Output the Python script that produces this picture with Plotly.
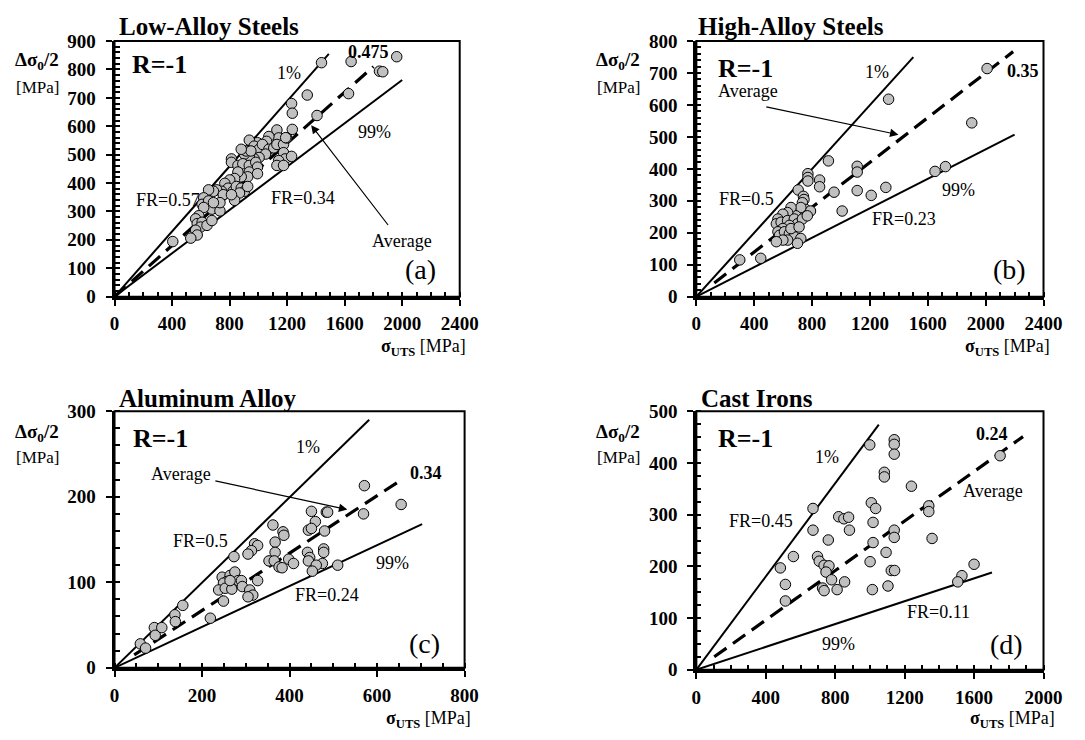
import plotly.graph_objects as go

FONT = "Liberation Serif"
W, H = 1085, 740

# ---------------- data ----------------
# (a) Low-Alloy Steels
a_uts = [1231, 1236, 1408, 1236, 1129, 1141, 1073, 1057, 994, 937, 971, 1005, 1028, 1073, 1107,
         1129, 1175, 1197, 1175, 1186, 1231, 1141, 1129, 1175, 1050, 1005, 971, 937, 903, 914,
         948, 881, 813, 813, 858, 892, 937, 982, 994, 937, 994, 926, 881, 858, 835, 801, 767,
         790, 745, 711, 688, 654, 756, 824, 847, 881, 903, 926, 869, 835, 813, 620, 609, 654,
         677, 733, 733, 688, 620, 586, 564, 575, 609, 598, 564, 643, 677, 575, 530, 405, 1439,
         1645, 1962, 1842, 1865, 1340, 1627, 1190]
a_amp = [680, 646, 638, 589, 587, 559, 564, 547, 542, 551, 530, 519, 536, 519, 524,
         536, 536, 559, 507, 485, 494, 479, 462, 462, 502, 490, 485, 496, 502, 513,
         513, 519, 485, 473, 462, 468, 462, 473, 456, 439, 433, 422, 422, 439, 416, 411, 399,
         382, 371, 376, 371, 376, 359, 371, 388, 382, 371, 388, 365, 339, 359, 348, 325, 337,
         308, 302, 331, 331, 314, 285, 274, 257, 262, 245, 234, 251, 268, 217, 206, 194, 824,
         828, 845, 794, 792, 710, 715, 560]
a_p1_x, a_p1_y = [0, 1490], [0, 855]      # 1% line
a_p99_x, a_p99_y = [0, 2000], [0, 763]    # 99% line
a_avg_x, a_avg_y = [0, 1800], [0, 810]    # average line

# (b) High-Alloy Steels
b_uts = [913, 1112, 1112, 771, 771, 771, 852, 852, 952, 1112, 1209, 1310, 1008, 704, 740, 744,
         733, 755, 789, 722, 688, 654, 631, 598, 564, 553, 586, 631, 677, 699, 733, 767, 643,
         598, 564, 575, 609, 643, 677, 722, 699, 631, 598, 553, 654, 710, 445, 300, 1329, 2010,
         1904, 1650, 1722]
b_amp = [425, 408, 390, 385, 373, 362, 365, 344, 327, 332, 317, 342, 268, 334, 314, 304,
         294, 273, 268, 279, 253, 279, 263, 258, 243, 228, 233, 238, 243, 228, 243, 253, 223,
         213, 203, 192, 203, 197, 187, 182, 167, 177, 177, 172, 213, 218, 120, 115, 618, 714,
         544, 392, 407]
b_p1_x, b_p1_y = [0, 1500], [0, 750]
b_p99_x, b_p99_y = [0, 2200], [0, 507]
b_avg_x, b_avg_y = [124, 2190], [43, 767]

# (c) Aluminum Alloy
c_uts = [450, 484, 487, 459, 443, 450, 480, 362, 385, 387, 367, 320, 327, 313, 305, 273, 367,
         353, 365, 376, 383, 398, 409, 441, 446, 443, 478, 478, 475, 461, 452, 510, 246, 264,
         275, 283, 290, 257, 249, 238, 253, 268, 264, 292, 309, 316, 305, 327, 249, 219, 156,
         59, 71, 91, 93, 108, 138, 139, 571, 655, 569]
c_amp = [183, 182, 182, 171, 161, 163, 160, 167, 159, 155, 147, 145, 143, 137, 133, 130, 135,
         125, 125, 118, 117, 127, 122, 135, 129, 125, 139, 135, 122, 120, 113, 120, 106, 108,
         112, 102, 102, 101, 99, 91, 93, 92, 102, 95, 91, 85, 83, 102, 78, 58, 73,
         28, 23, 47, 38, 47, 62, 54, 213, 191, 180]
c_p1_x, c_p1_y = [0, 582], [0, 290]
c_p99_x, c_p99_y = [0, 703], [0, 168]
c_avg_x, c_avg_y = [45, 653], [15, 219]

# (d) Cast Irons
d_uts = [999, 1140, 1140, 1140, 1083, 1083, 1239, 1750, 1008, 1033, 672, 820, 850, 877, 1339,
         1339, 1018, 672, 882, 1140, 1140, 760, 1358, 1018, 559, 698, 708, 736, 764, 747, 779,
         1001, 1093, 1123, 1142, 727, 736, 811, 854, 1014, 1104, 1600, 1530, 1506, 484, 513, 513]
d_amp = [435, 445, 436, 417, 382, 373, 355, 414, 323, 312, 312, 296, 292, 295, 317,
         306, 285, 270, 270, 270, 256, 251, 254, 246, 219, 219, 210, 202, 201, 189, 174,
         209, 227, 192, 192, 158, 153, 155, 170, 155, 162, 204, 182, 170, 197, 165, 133]
d_p1_x, d_p1_y = [0, 1051], [0, 474]
d_p99_x, d_p99_y = [0, 1703], [0, 188]
d_avg_x, d_avg_y = [103, 1882], [25, 451]

titles = ["Low-Alloy Steels", "High-Alloy Steels", "Aluminum Alloy", "Cast Irons"]
letters = ["(a)", "(b)", "(c)", "(d)"]

# ---------------- figure ----------------
fig = go.Figure()

panels = [
    dict(xs=a_uts, ys=a_amp, l1=(a_p1_x, a_p1_y), l99=(a_p99_x, a_p99_y), avg=(a_avg_x, a_avg_y)),
    dict(xs=b_uts, ys=b_amp, l1=(b_p1_x, b_p1_y), l99=(b_p99_x, b_p99_y), avg=(b_avg_x, b_avg_y)),
    dict(xs=c_uts, ys=c_amp, l1=(c_p1_x, c_p1_y), l99=(c_p99_x, c_p99_y), avg=(c_avg_x, c_avg_y)),
    dict(xs=d_uts, ys=d_amp, l1=(d_p1_x, d_p1_y), l99=(d_p99_x, d_p99_y), avg=(d_avg_x, d_avg_y)),
]

for i, p in enumerate(panels):
    sfx = "" if i == 0 else str(i + 1)
    xa, ya = "x" + sfx, "y" + sfx
    for key in ("l1", "l99"):
        fig.add_trace(go.Scatter(x=p[key][0], y=p[key][1], mode="lines", xaxis=xa, yaxis=ya,
                                 line=dict(color="black", width=2), hoverinfo="skip",
                                 showlegend=False))
    fig.add_trace(go.Scatter(x=p["avg"][0], y=p["avg"][1], mode="lines", xaxis=xa, yaxis=ya,
                             line=dict(color="black", width=3.2, dash="15px,8px"),
                             hoverinfo="skip", showlegend=False))
    fig.add_trace(go.Scatter(x=p["xs"], y=p["ys"], mode="markers", xaxis=xa, yaxis=ya,
                             marker=dict(size=10.5, color="#c0c0c0",
                                         line=dict(color="black", width=1)),
                             showlegend=False, cliponaxis=False))

tickfont = dict(family=FONT, size=19, color="black", weight="bold")


def xaxis(domain, rng, dt, mdt, anchor):
    return dict(domain=domain, range=rng, dtick=dt, tick0=0, anchor=anchor,
                showgrid=False, zeroline=False, showline=True, linecolor="black", linewidth=3,
                ticks="outside", ticklen=6, tickwidth=2, tickcolor="black",
                tickfont=tickfont, ticklabelstandoff=2,
                minor=dict(ticks="inside", ticklen=5, tickwidth=1.5, tickcolor="black",
                           dtick=mdt, tick0=0, showgrid=False),
                fixedrange=True)


def yaxis(domain, rng, dt, mdt, anchor):
    return dict(domain=domain, range=rng, dtick=dt, tick0=0, anchor=anchor,
                showgrid=False, zeroline=False, showline=True, linecolor="black", linewidth=3,
                ticks="outside", ticklen=6, tickwidth=2, tickcolor="black",
                tickfont=tickfont, ticklabelstandoff=6,
                minor=dict(ticks="inside", ticklen=5, tickwidth=1.5, tickcolor="black",
                           dtick=mdt, tick0=0, showgrid=False),
                fixedrange=True)


dx_left = [112 / W, 465 / W]
dx_right = [707 / W, 1062 / W]
dx_c = [112 / W, 470 / W]
dy_top = [1 - 295 / H, 1 - 32 / H]
dy_bot = [1 - 677 / H, 1 - 413 / H]
dy_bot_d = [1 - 679 / H, 1 - 413 / H]

fig.update_layout(
    width=W, height=H, margin=dict(l=0, r=0, t=0, b=0),
    paper_bgcolor="white", plot_bgcolor="white", showlegend=False,
    xaxis=xaxis(dx_left, [0, 2400], 400, 100, "y"),
    yaxis=yaxis(dy_top, [0, 900], 100, 20, "x"),
    xaxis2=xaxis(dx_right, [0, 2400], 400, 100, "y2"),
    yaxis2=yaxis(dy_top, [0, 800], 100, 20, "x2"),
    xaxis3=xaxis(dx_c, [0, 800], 200, 50, "y3"),
    yaxis3=yaxis(dy_bot, [0, 300], 100, 20, "x3"),
    xaxis4=xaxis(dx_right, [0, 2000], 400, 100, "y4"),
    yaxis4=yaxis(dy_bot_d, [0, 500], 100, 25, "x4"),
)

shapes = []
for sfx in ["", "2", "3", "4"]:
    shapes.append(dict(type="rect", xref="x" + sfx + " domain", yref="y" + sfx + " domain",
                       x0=0, x1=1, y0=0, y1=1, line=dict(color="black", width=2),
                       layer="above"))
fig.update_layout(shapes=shapes)

ann = []


def txt(text, x, y, ref, size=18, bold=False, xanchor="center", yanchor="middle"):
    ann.append(dict(text=text, x=x, y=y, xref=ref[0], yref=ref[1], showarrow=False,
                    xanchor=xanchor, yanchor=yanchor,
                    font=dict(family=FONT, size=size, color="black",
                              weight="bold" if bold else "normal")))


def arrow(x, y, ax, ay, ref):
    ann.append(dict(text="", x=x, y=y, ax=ax, ay=ay, xref=ref[0], yref=ref[1],
                    axref=ref[0], ayref=ref[1], showarrow=True, arrowhead=2,
                    arrowsize=1.4, arrowwidth=1.2, arrowcolor="black", standoff=0))


P = ("paper", "paper")
# titles, axis titles
title_pos = [(115, 17), (707, 17), (115, 400), (710, 400)]
ylab_pos = [(33, 53, 80), (627, 53, 80), (33, 435, 461), (627, 435, 461)]
xlab_pos = [(428, 347), (1025, 347), (433, 730), (1030, 730)]
for i in range(4):
    tx, ty = title_pos[i]
    txt(titles[i], tx / W, 1 - ty / H, P, size=25, bold=True, xanchor="left")
    lx, ly1, ly2 = ylab_pos[i]
    txt("Δσ<sub>0</sub>/2", lx / W, 1 - ly1 / H, P, size=19, bold=True)
    txt("[MPa]", lx / W, 1 - ly2 / H, P, size=17)
    xx, xy = xlab_pos[i]
    txt("<b>σ<sub>UTS</sub></b> [MPa]", xx / W, 1 - xy / H, P, size=18)

# panel (a)
A = ("x", "y")
txt("R=-1", 111, 817, A, size=26, bold=True, xanchor="left")
txt("1%", 1213, 786, A)
txt("0.475", 1763, 862, A, bold=True)
txt("99%", 1808, 581, A)
txt("FR=0.34", 1310, 348, A)
txt("FR=0.57", 371, 342, A)
txt("Average", 2000, 197, A)
arrow(1367, 604, 1910, 247, A)
txt(letters[0], 2125, 97, A, size=28)

# panel (b)
B = ("x2", "y2")
txt("R=-1", 135, 714, B, size=26, bold=True, xanchor="left")
txt("1%", 1251, 704, B)
txt("0.35", 2258, 707, B, bold=True)
txt("99%", 1814, 334, B)
txt("FR=0.23", 1438, 243, B)
txt("FR=0.5", 349, 306, B)
txt("Average", 360, 645, B)
arrow(1397, 507, 473, 595, B)
txt(letters[1], 2164, 86, B, size=28)

# panel (c)
C = ("x3", "y3")
txt("R=-1", 37, 268, C, size=26, bold=True, xanchor="left")
txt("1%", 441, 258, C)
txt("0.34", 711, 228, C, bold=True)
txt("99%", 636, 123, C)
txt("FR=0.24", 486, 85, C)
txt("FR=0.5", 197, 148, C)
txt("Average", 151, 227, C)
arrow(532, 185, 227, 219, C)
txt(letters[2], 709, 28, C, size=28)

# panel (d)
D = ("x4", "y4")
txt("R=-1", 113, 447, D, size=26, bold=True, xanchor="left")
txt("1%", 755, 411, D)
txt("0.24", 1705, 456, D, bold=True)
txt("Average", 1709, 346, D)
txt("FR=0.11", 1395, 111, D)
txt("99%", 817, 50, D)
txt("FR=0.45", 375, 288, D)
txt(letters[3], 1784, 49, D, size=28)

fig.update_layout(annotations=ann)

fig.write_html("out.html", config={"displayModeBar": False})
